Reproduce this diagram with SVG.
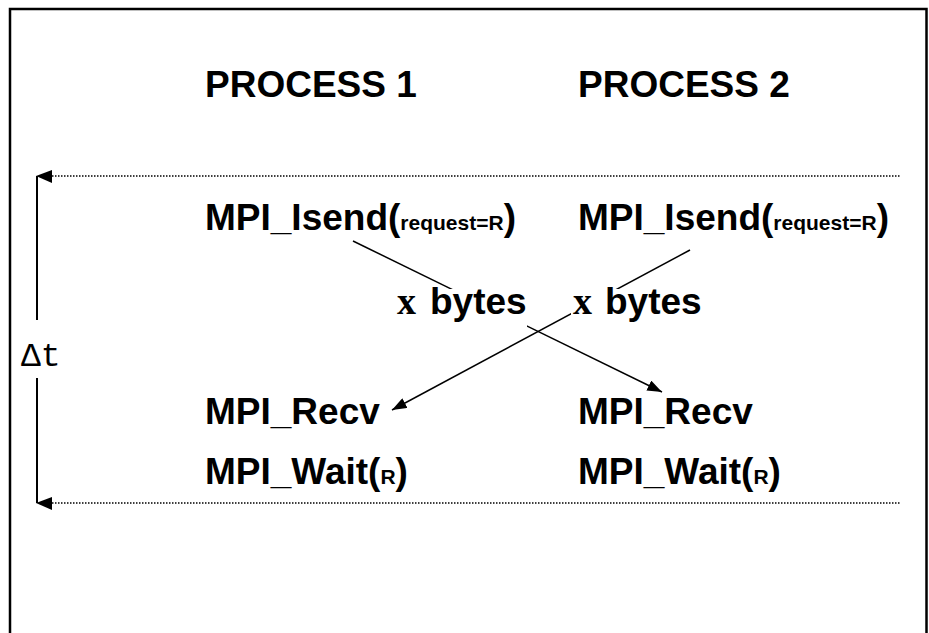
<svg xmlns="http://www.w3.org/2000/svg" width="929" height="633" viewBox="0 0 929 633">
<style>
.t{font-family:"Liberation Sans",Arial,sans-serif;font-weight:bold;font-size:37px;fill:#000}
.s{font-size:21px}
.m{font-family:"Liberation Serif","Times New Roman",serif;font-weight:bold;font-size:38px}
.dt{font-family:"Liberation Mono","Courier New",monospace;font-size:33px;fill:#000}
.ln{stroke:#000;stroke-width:1.5;fill:none}
.dot{stroke:#000;stroke-width:1.3;stroke-dasharray:1.5 1.5;fill:none}
.frame{stroke:#000;stroke-width:2.5;fill:none}
</style>
<defs>
<marker id="ah2" viewBox="0 0 16 12" refX="16" refY="6" markerWidth="15" markerHeight="11" markerUnits="userSpaceOnUse" orient="auto">
<path d="M0,0 L16,6 L0,12 Z" fill="#000"/>
</marker>
</defs>
<rect x="0" y="0" width="929" height="633" fill="#fff"/>
<path class="frame" d="M10,640 V9 H926.5 V640"/>
<g id="timeline">
<path class="dot" d="M52,176 H900"/>
<path class="dot" d="M52,503 H900"/>
<path d="M36,176 L52,170 L52,183 Z" fill="#000"/>
<path d="M36,503 L52,497 L52,510 Z" fill="#000"/>
<path class="ln" d="M37,176 V320 M37,378 V503" style="stroke-width:2"/>
<text class="dt" x="21" y="366">Δt</text>
</g>
<g id="connectors">
<line class="ln" x1="353" y1="241" x2="662" y2="392" marker-end="url(#ah2)"/>
<line class="ln" x1="690" y1="250" x2="392" y2="410" marker-end="url(#ah2)"/>
</g>
<g id="header1"><text class="t" x="205" y="97">PROCESS 1</text></g>
<g id="header2"><text class="t" x="578" y="97">PROCESS 2</text></g>
<g id="isend1"><text class="t" x="205" y="230">MPI_Isend(<tspan class="s">request=R</tspan>)</text></g>
<g id="isend2"><text class="t" x="578" y="230">MPI_Isend(<tspan class="s">request=R</tspan>)</text></g>
<g id="bytes1">
<rect x="425" y="289" width="102" height="38" fill="#fff"/>
<text class="t" x="397" y="314"><tspan class="m">x</tspan><tspan x="430">bytes</tspan></text>
</g>
<g id="bytes2">
<rect x="571" y="289" width="132" height="38" fill="#fff"/>
<text class="t" x="573" y="314"><tspan class="m">x</tspan><tspan x="605">bytes</tspan></text>
</g>
<g id="recv1"><text class="t" x="205" y="424">MPI_Recv</text></g>
<g id="recv2"><text class="t" x="578" y="424">MPI_Recv</text></g>
<g id="wait1"><text class="t" x="205" y="484">MPI_Wait(<tspan class="s">R</tspan>)</text></g>
<g id="wait2"><text class="t" x="578" y="484">MPI_Wait(<tspan class="s">R</tspan>)</text></g>
</svg>
